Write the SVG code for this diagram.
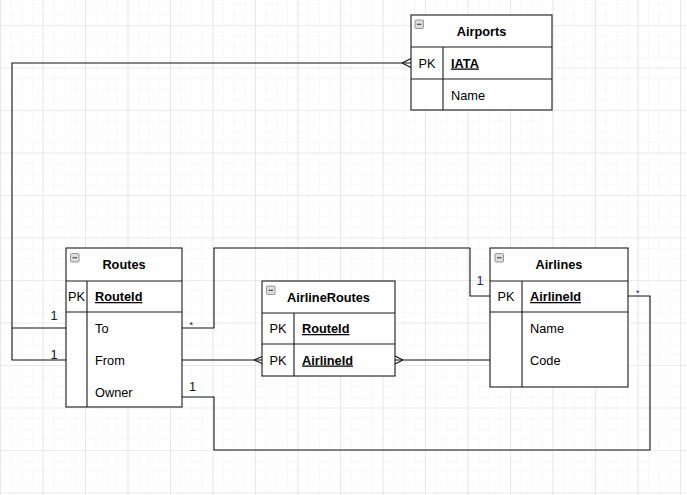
<svg xmlns="http://www.w3.org/2000/svg" width="687" height="495" viewBox="0 0 687 495">
<style>
  text { font-family: "Liberation Sans", Arial, sans-serif; font-size: 12.75px; fill: #000; }
  .hdr { font-weight: bold; text-anchor: middle; }
  .pk { text-anchor: middle; }
  .key { font-weight: bold; text-decoration: underline; }
  .box { fill: #fff; stroke: #1a1a1a; stroke-width: 1.1; }
  .ln { stroke: #1a1a1a; stroke-width: 1.1; fill: none; }
  .conn { stroke: #111; stroke-width: 1.1; fill: none; }
  .icon { fill: #dedede; stroke: #7f7f7f; stroke-width: 0.8; }
  .minus { stroke: #333; stroke-width: 1; }
  .lbl { font-size: 12.75px; fill: #111; }
  .lblb { font-size: 12.75px; fill: #1c237a; }
</style>
<defs>
  <pattern id="minor" patternUnits="userSpaceOnUse" x="0" y="25" width="10.625" height="10.625">
    <path d="M0 0 H10.625 M0 0 V10.625" stroke="#f1f1f1" stroke-width="1" fill="none"/>
  </pattern>
  <pattern id="major" patternUnits="userSpaceOnUse" x="0" y="25" width="42.5" height="42.5">
    <path d="M0 0 H42.5 M0 0 V42.5" stroke="#dedede" stroke-width="1.2" fill="none"/>
  </pattern>
</defs>
<rect width="687" height="495" fill="#fff"/>
<rect width="687" height="495" fill="url(#minor)"/>
<rect width="687" height="495" fill="url(#major)"/>

<g id="connectors">
  <path class="conn" d="M66 360 H12 V63 H411"/>
  <path class="conn" d="M66 328 H12"/>
  <path class="conn" d="M402 63 L411 58.5 M402 63 L411 67.5"/>
  <path class="conn" d="M182 328 H214 V248 H470 V296 H490"/>
  <path class="conn" d="M182 360 H262"/>
  <path class="conn" d="M254 360 L262 356.5 M254 360 L262 363.5"/>
  <path class="conn" d="M395 360 H490"/>
  <path class="conn" d="M403 360 L395 356 M403 360 L395 364"/>
  <path class="conn" d="M182 397 H214 V450 H650 V296 H628"/>
  <text class="lbl" x="50.5" y="320">1</text>
  <text class="lbl" x="50.5" y="359">1</text>
  <text class="lbl" x="189.5" y="328" style="font-size:9px">*</text>
  <text class="lbl" x="189" y="391">1</text>
  <text class="lblb" x="476.5" y="285">1</text>
  <text class="lblb" x="636" y="296" style="font-size:9px">*</text>
</g>

<g id="airports">
  <rect class="box" x="411" y="15" width="141" height="95"/>
  <path class="ln" d="M411 47 H552 M411 79 H552 M443 47 V110"/>
  <rect class="icon" x="415" y="20" width="8.5" height="8.5" rx="1"/>
  <path class="minus" d="M417 24.25 H421.5"/>
  <text class="hdr" x="481.5" y="35.5">Airports</text>
  <text class="pk" x="427" y="67.5">PK</text>
  <text class="key" x="451" y="67.5">IATA</text>
  <text x="451" y="99.5">Name</text>
</g>

<g id="routes">
  <rect class="box" x="66" y="248" width="116" height="159"/>
  <path class="ln" d="M66 281 H182 M66 312 H182 M87 281 V407"/>
  <rect class="icon" x="70.5" y="253.5" width="8.5" height="8.5" rx="1"/>
  <path class="minus" d="M72.5 257.75 H77"/>
  <text class="hdr" x="124" y="269">Routes</text>
  <text class="pk" x="76.5" y="301">PK</text>
  <text class="key" x="95" y="301">RouteId</text>
  <text x="95" y="332.5">To</text>
  <text x="95" y="364.5">From</text>
  <text x="95" y="396.5">Owner</text>
</g>

<g id="airlineroutes">
  <rect class="box" x="262" y="281" width="133" height="95"/>
  <path class="ln" d="M262 313 H395 M262 344 H395 M294 313 V376"/>
  <rect class="icon" x="266.5" y="286" width="8.5" height="8.5" rx="1"/>
  <path class="minus" d="M268.5 290.25 H273"/>
  <text class="hdr" x="328.5" y="301.5">AirlineRoutes</text>
  <text class="pk" x="278" y="333">PK</text>
  <text class="key" x="302" y="333">RouteId</text>
  <text class="pk" x="278" y="364.5">PK</text>
  <text class="key" x="302" y="364.5">AirlineId</text>
</g>

<g id="airlines">
  <rect class="box" x="490" y="248" width="138" height="139"/>
  <path class="ln" d="M490 281 H628 M490 312 H628 M522 281 V387"/>
  <rect class="icon" x="495" y="253.5" width="8.5" height="8.5" rx="1"/>
  <path class="minus" d="M497 257.75 H501.5"/>
  <text class="hdr" x="559" y="269">Airlines</text>
  <text class="pk" x="506" y="301">PK</text>
  <text class="key" x="530" y="301">AirlineId</text>
  <text x="530" y="332.5">Name</text>
  <text x="530" y="364.5">Code</text>
</g>
</svg>
